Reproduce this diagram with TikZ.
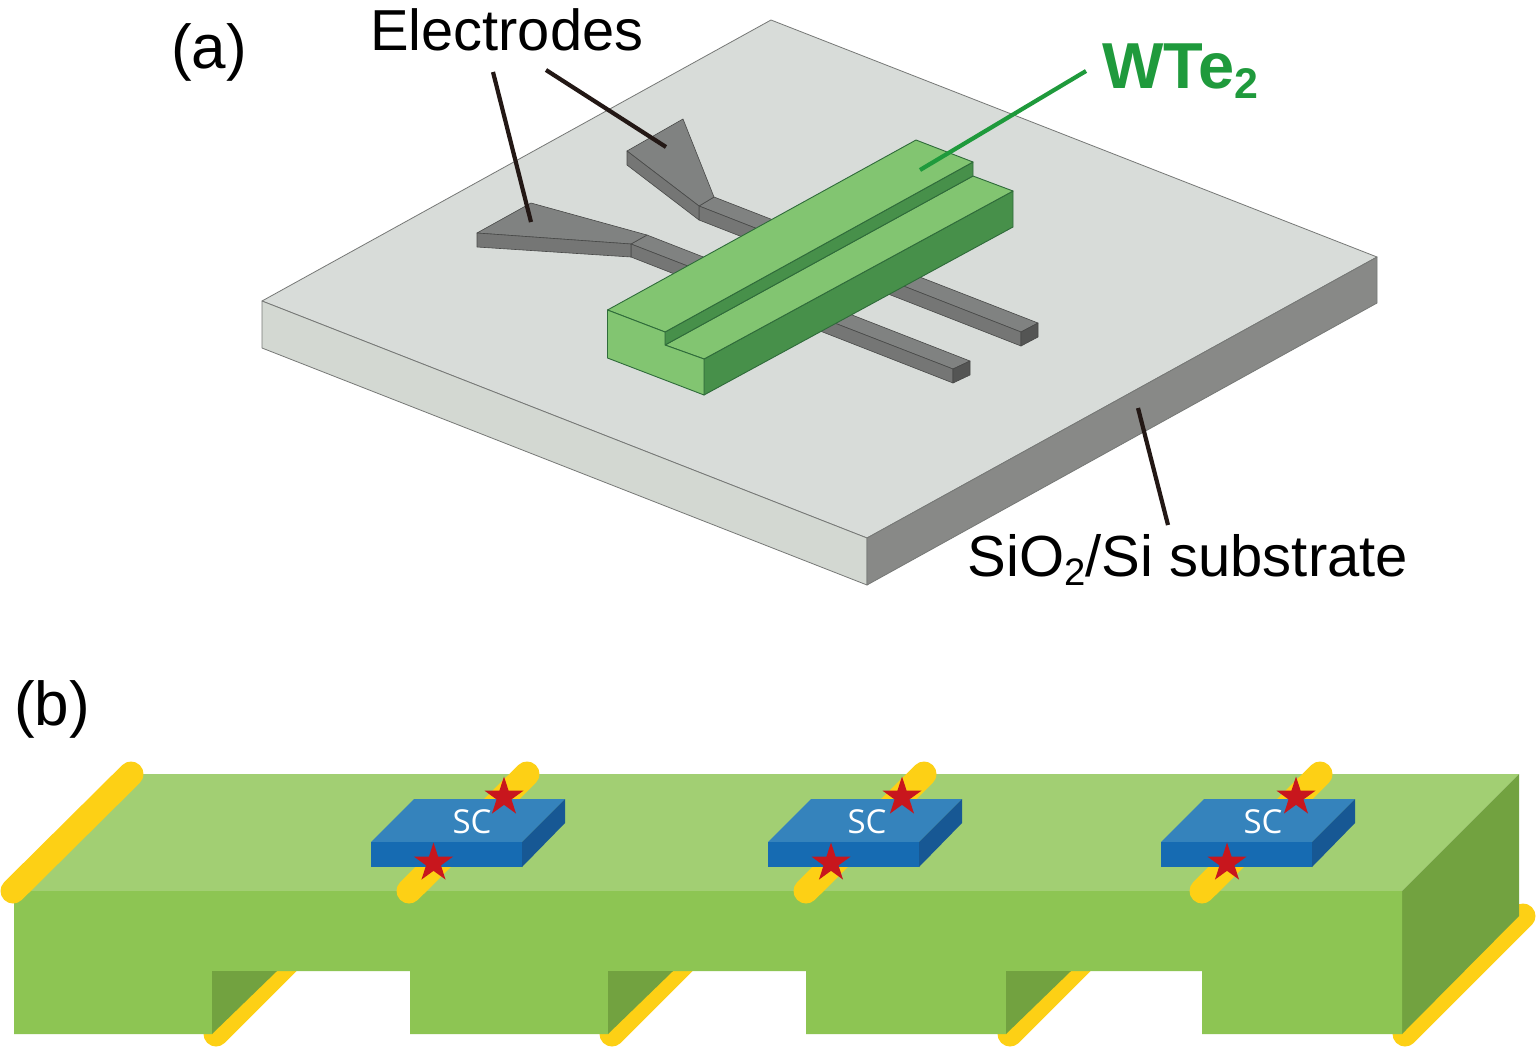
\documentclass[tikz,border=0pt]{standalone}
\usepackage{fontspec}
\setmainfont{Liberation Sans}
\newfontfamily\scfont{Open Sans}
\usetikzlibrary{shapes.geometric}
\definecolor{subTop}{HTML}{D8DCD9}
\definecolor{subFront}{HTML}{D3D8D2}
\definecolor{subSide}{HTML}{888987}
\definecolor{subEdge}{HTML}{767876}
\definecolor{elTop}{HTML}{808281}
\definecolor{elSide}{HTML}{757675}
\definecolor{elEnd}{HTML}{545554}
\definecolor{elEdge}{HTML}{484948}
\definecolor{flakeLight}{HTML}{82C571}
\definecolor{flakeDark}{HTML}{47904A}
\definecolor{flakeEdge}{HTML}{2F6B3A}
\definecolor{leadDark}{HTML}{231815}
\definecolor{leadGreen}{HTML}{1F9A3C}
\definecolor{blockTop}{HTML}{A2CF73}
\definecolor{blockFront}{HTML}{8DC553}
\definecolor{blockSide}{HTML}{72A240}
\definecolor{wire}{HTML}{FDD015}
\definecolor{scTop}{HTML}{3583BC}
\definecolor{scFront}{HTML}{166BB2}
\definecolor{scSide}{HTML}{175894}
\definecolor{starRed}{HTML}{C8161D}
\newcommand{\lowidx}[1]{\raisebox{-0.16em}{\scalebox{0.66}{#1}}}
\tikzset{
  x=1pt, y=-1pt,
  subface/.style={fill=#1, draw=subEdge, line width=0.8pt, line join=round},
  elface/.style={fill=#1, draw=elEdge, line width=0.6pt, line join=round},
  flakeface/.style={fill=#1, draw=flakeEdge, line width=0.9pt, line join=round},
  leaddark/.style={draw=leadDark, line width=4.2pt},
  leadgreen/.style={draw=leadGreen, line width=4.2pt},
  label/.style={inner sep=0pt, anchor=base west, text=black},
  wirestrip/.style={draw=wire, line width=25pt, line cap=round},
  redstar/.style={star, star points=5, star point ratio=2.618, minimum size=41pt,
    inner sep=0pt, fill=starRed, draw=none},
  sctext/.style={inner sep=0pt, text=white, font=\scfont\fontsize{33}{35}\selectfont},
}
\begin{document}
\begin{tikzpicture}
\useasboundingbox (0,0) rectangle (1536,1047);

% Panel (a): substrate slab
\fill[white] (0,0) rectangle (1536,1047);
\path[subface=subTop] (262,301) -- (771,20) -- (1377,257) -- (867,538) -- cycle;
\path[subface=subFront] (262,301) -- (867,538) -- (867,585) -- (262,348) -- cycle;
\path[subface=subSide] (867,538) -- (1377,257) -- (1377,303) -- (867,585) -- cycle;

% Rear electrode
\path[elface=elTop] (699,206) -- (714,197) -- (1038,323) -- (1021,332) -- cycle;
\path[elface=elSide] (699,206) -- (1021,332) -- (1021,346) -- (699,220) -- cycle;
\path[elface=elEnd] (1021,332) -- (1038,323) -- (1038,337) -- (1021,346) -- cycle;
\path[elface=elTop] (627,151) -- (683,119) -- (714,197) -- (699,206) -- cycle;
\path[elface=elSide] (627,151) -- (699,206) -- (699,220) -- (627,165) -- cycle;

% Front electrode
\path[elface=elTop] (631,244) -- (647,235) -- (970,361) -- (953,369) -- cycle;
\path[elface=elSide] (631,244) -- (953,369) -- (953,383) -- (631,257) -- cycle;
\path[elface=elEnd] (953,369) -- (970,361) -- (970,375) -- (953,383) -- cycle;
\path[elface=elTop] (477,233) -- (531,203) -- (647,235) -- (631,244) -- cycle;
\path[elface=elSide] (477,233) -- (631,244) -- (631,257) -- (477,247) -- cycle;

% Stepped flake
\path[flakeface=flakeDark] (704,359) -- (1013,191) -- (1013,227) -- (704,395) -- cycle;
\path[flakeface=flakeLight] (665,345) -- (973,176) -- (1013,191) -- (704,359) -- cycle;
\path[flakeface=flakeDark] (665,332) -- (973,162) -- (973,176) -- (665,345) -- cycle;
\path[flakeface=flakeLight] (607.5,310) -- (916,140) -- (973,162) -- (665,332) -- cycle;
\path[flakeface=flakeLight] (607.5,310) -- (665,332) -- (665,345) -- (704,359) -- (704,395) -- (607.5,358) -- cycle;

% Panel (a): labels and leader lines
\node[label, font=\fontsize{62}{64}\selectfont] (tagA) at (171,68) {(a)};
\node[label, font=\fontsize{57.8}{60}\selectfont] (electrodes) at (370,50) {Electrodes};
\node[label, font=\bfseries\fontsize{65}{67}\selectfont, text=leadGreen] (wte) at (1102,88) {WTe\lowidx{2}};
\node[label, font=\fontsize{58}{60}\selectfont] (substrate) at (967.5,576) {SiO\lowidx{2}/Si substrate};
\coordinate (leadA) at (493,72);
\coordinate (padA) at (531,222);
\coordinate (leadB) at (546,70);
\coordinate (padB) at (666,147);
\coordinate (leadC) at (1086,71);
\coordinate (flakeEnd) at (920,170);
\coordinate (leadD) at (1168,525);
\coordinate (slabEnd) at (1138,408);
\draw[leaddark] (leadA) -- (padA);
\draw[leaddark] (leadB) -- (padB);
\draw[leadgreen] (leadC) -- (flakeEnd);
\draw[leaddark] (leadD) -- (slabEnd);

% Panel (b): wires running under the block, visible only in the recesses
\begin{scope}
  \clip (0,971) rectangle (1536,1047);
  \foreach \xs in {216,612,1010} {
    \draw[wirestrip] (\xs,1034) -- ++(119,-119);
  }
\end{scope}
\draw[wirestrip] (1405,1034) -- (1523,916);

% Panel (b): notched block
\fill[blockTop] (14,891) -- (133,774) -- (1519,774) -- (1402,891) -- cycle;
\fill[blockSide] (1402,891) -- (1519,774) -- (1519,916) -- (1402,1034) -- cycle;
\fill[blockFront] (14,891) -- (1402,891) -- (1402,1034) -- (1202,1034) -- (1202,971)
  -- (1006,971) -- (1006,1034) -- (806,1034) -- (806,971) -- (608,971) -- (608,1034)
  -- (410,1034) -- (410,971) -- (212,971) -- (212,1034) -- (14,1034) -- cycle;
\foreach \xs in {212,608,1006} {
  \fill[blockSide] (\xs,971) -- ++(65,0) -- (\xs,1034) -- cycle;
}

% Panel (b): wires on the top surface
\draw[wirestrip] (13,891) -- (131,774);
\draw[wirestrip] (409,891) -- (527,774);
\draw[wirestrip] (806,891) -- (924,774);
\draw[wirestrip] (1202,891) -- (1320,774);

% Panel (b): SC pads with their stars
\foreach \px/\tx/\n/\sa/\sb in {371/472/1/433.5/504, 768/867/2/831/902, 1161/1263/3/1227/1296} {
  \fill[scTop] (\px,842) -- ++(43,-43) -- ++(151,0) -- ++(-43,43) -- cycle;
  \fill[scFront] (\px,842) rectangle ++(151,25);
  \fill[scSide] (\px+151,842) -- ++(43,-43) -- ++(0,24) -- ++(-43,44) -- cycle;
  \node[sctext] (sc\n) at (\tx,822) {SC};
  \node[redstar] (starLow\n) at (\sa,863) {};
  \node[redstar] (starHigh\n) at (\sb,797) {};
}

\node[label, font=\fontsize{62}{64}\selectfont] (tagB) at (14,725) {(b)};
\end{tikzpicture}
\end{document}
